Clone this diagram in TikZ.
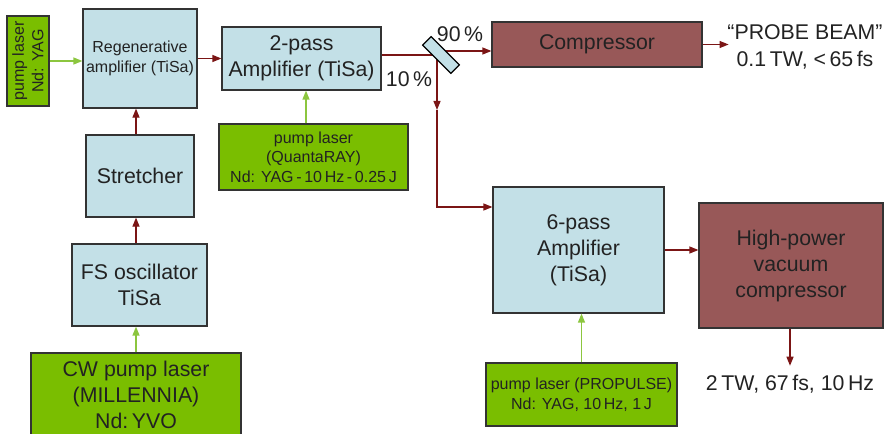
\documentclass[tikz,border=0pt]{standalone}
\usepackage{fontspec}
\setmainfont{Liberation Sans}
\usetikzlibrary{arrows.meta,calc}

\definecolor{boxblue}{HTML}{C3E0E7}
\definecolor{pumpgreen}{HTML}{7ABE00}
\definecolor{compbrown}{HTML}{985858}
\definecolor{beamred}{HTML}{7B1515}
\definecolor{pumpline}{HTML}{8CC63F}
\definecolor{boxline}{HTML}{333333}
\definecolor{textgray}{HTML}{222222}

\begin{document}
\begin{tikzpicture}[x=1pt,y=-1pt,
  box/.style={draw=boxline,line width=1.2pt,inner sep=0pt,align=center,text=textgray},
  bluebox/.style={box,fill=boxblue},
  greenbox/.style={box,fill=pumpgreen},
  brownbox/.style={box,fill=compbrown},
  bigtext/.style={font=\fontsize{21.3}{26}\selectfont},
  smalltext/.style={font=\fontsize{16}{19.5}\selectfont},
  beam/.style={draw=beamred,line width=1.2pt,-{Triangle[length=9pt,width=7pt]}},
  beamline/.style={draw=beamred,line width=1.2pt},
  pump/.style={draw=pumpline,line width=1.3pt,-{Triangle[length=9pt,width=7pt]}},
  plaintext/.style={inner sep=0pt,text=textgray,align=center}]

\useasboundingbox (0,0) rectangle (890,433);

% --- front end: oscillator, stretcher, regenerative amplifier
\node[greenbox,smalltext,rotate=90,minimum width=90pt,minimum height=42pt] (yag) at (28,61) {pump laser\\Nd: YAG};
\node[bluebox,smalltext,minimum width=114pt,minimum height=99pt] (regen) at (140,58.5) {Regenerative\\amplifier (TiSa)};
\node[bluebox,bigtext,minimum width=108pt,minimum height=82pt] (stretch) at (140,176) {Stretcher};
\node[bluebox,bigtext,minimum width=135pt,minimum height=82pt] (fso) at (139.5,285) {FS oscillator\\TiSa};
\node[greenbox,bigtext,minimum width=210pt,minimum height=84pt] (cw) at (136,395) {CW pump laser\\(MILLENNIA)\\Nd:\,YVO};

% --- two-pass amplifier and its pump
\node[bluebox,bigtext,minimum width=159pt,minimum height=63pt] (amp2) at (301.5,58.5) {2-pass\\Amplifier (TiSa)};
\node[greenbox,smalltext,minimum width=189pt,minimum height=66pt] (quanta) at (313.5,157) {pump laser\\(QuantaRAY)\\Nd: YAG\,-\,10\,Hz\,-\,0.25\,J};

% --- probe beam line
\node[brownbox,bigtext,minimum width=210pt,minimum height=45pt] (comp) at (597,44.5) {Compressor};
\node[plaintext,font=\fontsize{21.3}{27.5}\selectfont] (probe) at (805,47) {“PROBE BEAM”\\0.1\,TW, <\,65\,fs};

% --- main beam line
\node[bluebox,bigtext,minimum width=171pt,minimum height=126pt] (amp6) at (578.5,250) {6-pass\\Amplifier\\(TiSa)};
\node[brownbox,bigtext,minimum width=184pt,minimum height=125pt] (hpc) at (791,265.5) {High-power\\vacuum\\compressor};
\node[greenbox,smalltext,minimum width=191pt,minimum height=63pt] (propulse) at (581.5,394.5) {pump laser (PROPULSE)\\Nd: YAG, 10\,Hz, 1\,J};
\node[plaintext,bigtext,inner ysep=9pt] (out) at (790,384) {2\,TW, 67\,fs, 10\,Hz};

% --- split ratios
\node[plaintext,bigtext] (p90) at (460,34) {90\,\%};
\node[plaintext,bigtext] (p10) at (409,79) {10\,\%};

% --- helper points on the beam path
\coordinate (colx) at (136,0);
\coordinate (split) at (437,55);
\coordinate (refl) at (445,51);
\coordinate (midtip) at (437,110);
\coordinate (turn) at (437,207);

% --- pump connectors
\draw[pump] (cw.north -| colx) -- (fso.south -| colx);
\draw[pump] (yag.south) -- (regen.west |- yag.south);
\draw[pump] (quanta.north -| 306,0) -- (amp2.south -| 306,0);
\draw[pump] (propulse.north) -- (amp6.south -| propulse.north);

% --- beam connectors
\draw[beam] (fso.north -| colx) -- (stretch.south -| colx);
\draw[beam] (stretch.north -| colx) -- (regen.south -| colx);
\draw[beam] (regen.east) -- (amp2.west);
\draw[beamline] (amp2.east |- split) -- (split);
\draw[beam] (refl) -- (refl -| comp.west);
\draw[beam] (split) -- (midtip);
\draw[beam] (midtip) -- (turn) -- (turn -| amp6.west);
\draw[beam] (comp.east) -- ++(26,0) coordinate (probein);
\draw[beam] (amp6.east |- 0,250) -- (hpc.west |- 0,250);
\draw[beam] (hpc.south -| out.north) -- (out.north);

% --- beam splitter mirror
\node[draw=black,line width=1.2pt,fill=boxblue,rotate=-45,minimum width=40pt,minimum height=12pt,inner sep=0pt] (mirror) at (441,55) {};

\end{tikzpicture}
\end{document}
